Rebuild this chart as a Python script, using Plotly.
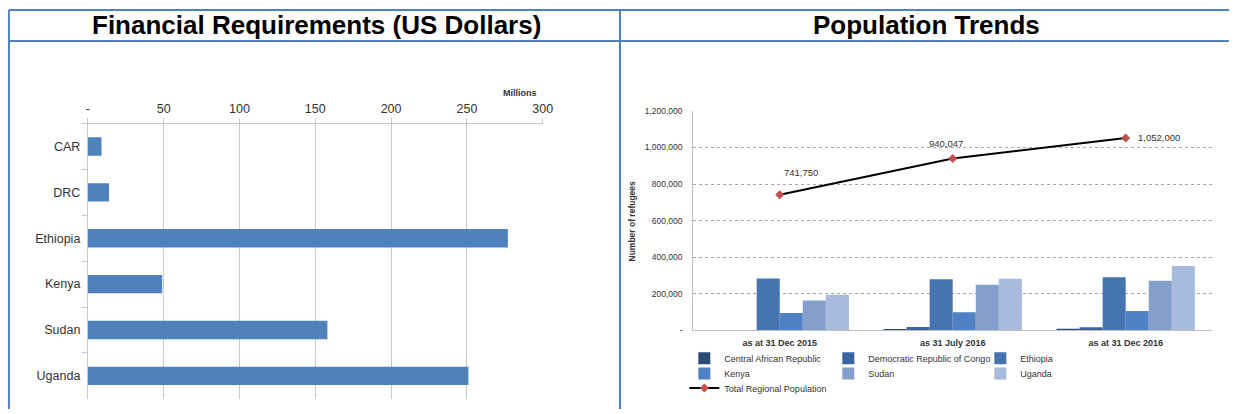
import plotly.graph_objects as go

W, H = 1239, 414

# Financial requirements by country (millions of US dollars)
fin_countries = ["CAR", "DRC", "Ethiopia", "Kenya", "Sudan", "Uganda"]
fin_millions = [9, 14, 277, 49, 158, 251]
fin_ticks = [0, 50, 100, 150, 200, 250, 300]
fin_tick_text = ["-", "50", "100", "150", "200", "250", "300"]

# Refugee population by country of asylum
pop_dates = ["as at 31 Dec 2015", "as 31 July 2016", "as at 31 Dec 2016"]
pop_car = [0, 4000, 9000]
pop_drc = [0, 19000, 17000]
pop_ethiopia = [284000, 280000, 291000]
pop_kenya = [96000, 100000, 106000]
pop_sudan = [164000, 250000, 272000]
pop_uganda = [195000, 283000, 352000]
pop_total = [741750, 940047, 1052000]
pop_names = ["Central African Republic", "Democratic Republic of Congo", "Ethiopia",
             "Kenya", "Sudan", "Uganda"]
pop_ticks = [0, 200000, 400000, 600000, 800000, 1000000, 1200000]
pop_tick_text = ["-", "200,000", "400,000", "600,000", "800,000", "1,000,000", "1,200,000"]

FONT = "Liberation Sans, Arial, sans-serif"
FRAME = "#4F81BD"
GRID = "#c8c8c8"
TEXT = "#333333"


def fx(px):
    return px / W


def fy(py):
    return 1 - py / H


fig = go.Figure()

# Left panel: horizontal bars
fig.add_trace(go.Bar(
    x=fin_millions, y=fin_countries, orientation="h",
    marker=dict(color="#4F81BD", line=dict(width=0)),
    width=0.4, xaxis="x", yaxis="y", showlegend=False,
    hoverinfo="x+y",
))

# Right panel: grouped bars per country, legend laid out in three rows
bar_colors = ["#2B4A75", "#3A64A0", "#4674B0", "#4F81C5", "#849FCC", "#A8BBDC"]
legend_rows = ["legend", "legend", "legend", "legend2", "legend2", "legend2"]
legend_widths = [99, 107, 99, 99, 107, 99]
for name, vals, color, lg, lw in zip(
        pop_names,
        [pop_car, pop_drc, pop_ethiopia, pop_kenya, pop_sudan, pop_uganda],
        bar_colors, legend_rows, legend_widths):
    fig.add_trace(go.Bar(
        x=pop_dates, y=vals, name=name,
        marker=dict(color=color, line=dict(width=0)),
        xaxis="x2", yaxis="y2", legend=lg, legendwidth=lw,
    ))

fig.add_trace(go.Scatter(
    x=pop_dates, y=pop_total, name="Total Regional Population",
    mode="lines+markers",
    line=dict(color="black", width=2),
    marker=dict(symbol="diamond", size=7, color="#C0504D"),
    xaxis="x2", yaxis="y2", legend="legend3",
))

# Value labels for the total line
label_offsets = [(21, 22, "center"), (-7, 15, "center"), (10, 0, "left")]
annotations = []
for d, v, (dx, dy, anchor) in zip(pop_dates, pop_total, label_offsets):
    annotations.append(dict(
        x=d, y=v, xref="x2", yref="y2", text=f"{v:,}", showarrow=False,
        xshift=dx, yshift=dy, xanchor=anchor, yanchor="middle",
        font=dict(family=FONT, size=9.5, color=TEXT),
    ))

# Panel titles and axis captions
annotations += [
    dict(x=fx(318), y=fy(21), xref="paper", yref="paper",
         text="<b>Financial Requirements (US Dollars)</b>", showarrow=False,
         xanchor="center", yanchor="middle",
         font=dict(family=FONT, size=26, color="black")),
    dict(x=fx(934), y=fy(21), xref="paper", yref="paper",
         text="<b>Population Trends</b>", showarrow=False,
         xanchor="center", yanchor="middle",
         font=dict(family=FONT, size=26, color="black")),
    dict(x=fx(523), y=fy(90), xref="paper", yref="paper",
         text="<b>Millions</b>", showarrow=False,
         xanchor="center", yanchor="middle",
         font=dict(family=FONT, size=9, color=TEXT)),
    dict(x=fx(636), y=fy(221), xref="paper", yref="paper",
         text="<b>Number of refugees</b>", showarrow=False, textangle=-90,
         xanchor="center", yanchor="middle",
         font=dict(family=FONT, size=8.5, color=TEXT)),
]

# Table-style frame around the two panels
frame_lines = [
    (7, 5, W, 5), (7, 37, W, 37),
    (7, 5, 7, H), (624, 5, 624, H),
]
shapes = [dict(type="line", xref="paper", yref="paper",
               x0=fx(a), y0=fy(b), x1=fx(c), y1=fy(d),
               line=dict(color=FRAME, width=2))
          for a, b, c, d in frame_lines]

legend_common = dict(
    orientation="h", xanchor="left", yanchor="middle",
    entrywidth=99, itemwidth=30, bgcolor="rgba(0,0,0,0)",
    font=dict(family=FONT, size=9, color=TEXT), itemclick=False,
    itemdoubleclick=False,
)

fig.update_layout(
    width=W, height=H,
    margin=dict(l=0, r=0, t=0, b=0),
    paper_bgcolor="white", plot_bgcolor="white",
    font=dict(family=FONT, color=TEXT),
    barmode="group", bargap=0.2, bargroupgap=0,
    xaxis=dict(
        domain=[fx(86.7), fx(546)], range=[0, 300], side="top", anchor="y",
        tickvals=fin_ticks, ticktext=fin_tick_text,
        showgrid=True, gridcolor=GRID, gridwidth=1, zeroline=False,
        showline=True, linecolor=GRID, ticks="outside", ticklen=5, tickcolor=GRID,
        tickfont=dict(family=FONT, size=12.5, color=TEXT), fixedrange=True,
    ),
    yaxis=dict(
        domain=[fy(403.5), fy(121.5)], anchor="x", type="category",
        autorange="reversed", showgrid=False, zeroline=False,
        showline=True, linecolor=GRID, ticks="outside", tickson="boundaries",
        ticklen=5, tickcolor=GRID, ticklabelstandoff=4,
        tickfont=dict(family=FONT, size=12.5, color=TEXT), fixedrange=True,
    ),
    xaxis2=dict(
        domain=[fx(698), fx(1222)], anchor="y2", type="category",
        showgrid=False, zeroline=False, showline=True, linecolor="#bfbfbf",
        ticks="", ticklabelstandoff=4,
        tickfont=dict(family=FONT, size=9, color=TEXT, weight="bold"), fixedrange=True,
    ),
    yaxis2=dict(
        domain=[fy(333.5), fy(108.5)], anchor="x2", range=[0, 1200000],
        tickvals=pop_ticks, ticktext=pop_tick_text,
        showgrid=True, gridcolor="#a6a6a6", griddash="dot", gridwidth=1,
        zeroline=False, showline=True, linecolor="#bfbfbf", ticks="",
        ticklabelstandoff=8,
        tickfont=dict(family=FONT, size=8.5, color=TEXT), fixedrange=True,
    ),
    legend=dict(legend_common, x=fx(689), y=fy(362)),
    legend2=dict(legend_common, x=fx(689), y=fy(377.7)),
    legend3=dict(legend_common, x=fx(689), y=fy(392.5)),
    annotations=annotations,
    shapes=shapes,
    showlegend=True,
)

fig.write_html("out.html")
